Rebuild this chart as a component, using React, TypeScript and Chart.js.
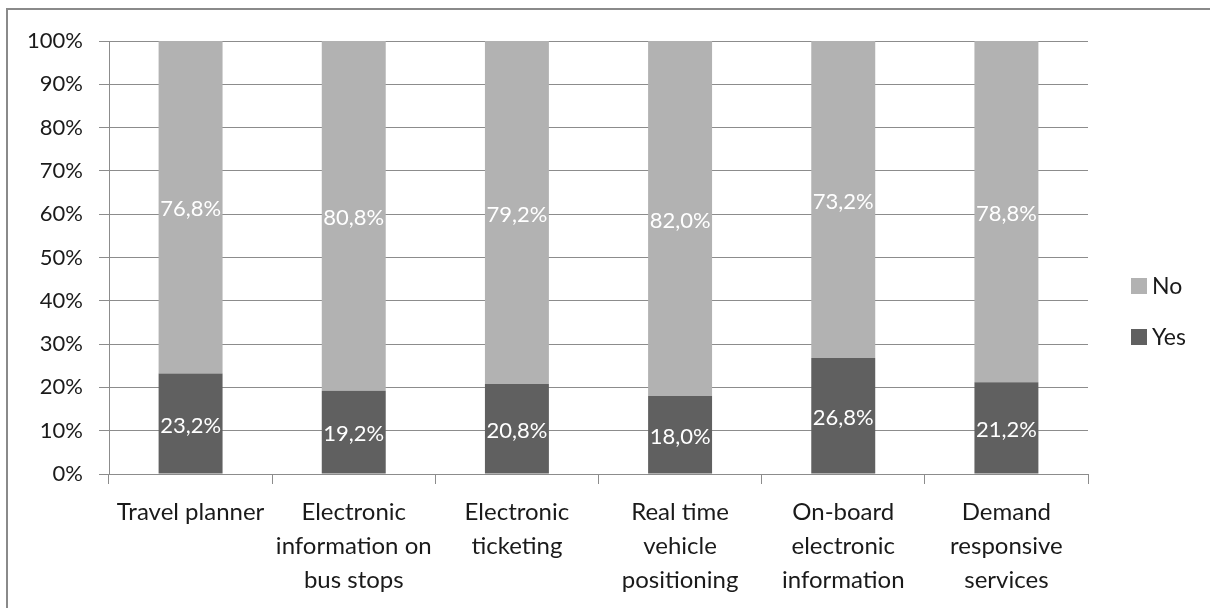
import React, { useEffect, useRef } from "react";
import { Chart, registerables } from "chart.js";

Chart.register(...registerables);

// Survey answers per service (percent of respondents)
const categories: string[][] = [
  ["Travel planner"],
  ["Electronic", "information on", "bus stops"],
  ["Electronic", "ticketing"],
  ["Real time", "vehicle", "positioning"],
  ["On-board", "electronic", "information"],
  ["Demand", "responsive", "services"],
];
const yesValues = [23.2, 19.2, 20.8, 18.0, 26.8, 21.2];
const noValues = [76.8, 80.8, 79.2, 82.0, 73.2, 78.8];
const yTicks = [0, 10, 20, 30, 40, 50, 60, 70, 80, 90, 100];

const FONT = "Lato";
const YES_COLOR = "#606060";
const NO_COLOR = "#b2b2b2";
const GRID_COLOR = "#8c8c8c";

const fmt = (v: number) => v.toFixed(1).replace(".", ",") + "%";

// White value labels centred in each stacked segment
const segmentLabels = {
  id: "segmentLabels",
  afterDatasetsDraw(chart: any) {
    const { ctx } = chart;
    ctx.save();
    ctx.fillStyle = "#ffffff";
    ctx.font = `22px ${FONT}`;
    ctx.textAlign = "center";
    ctx.textBaseline = "middle";
    chart.data.datasets.forEach((ds: any, di: number) => {
      const meta = chart.getDatasetMeta(di);
      meta.data.forEach((bar: any, i: number) => {
        const yMid = (bar.y + bar.base) / 2;
        ctx.fillText(fmt(ds.data[i]), bar.x, yMid + 2);
      });
    });
    ctx.restore();
  },
};

// Legend on the right, listed top-down in reverse stacking order
const sideLegend = {
  id: "sideLegend",
  afterDraw(chart: any) {
    const { ctx } = chart;
    const items = [...chart.data.datasets].reverse();
    ctx.save();
    ctx.font = `23px ${FONT}`;
    ctx.textAlign = "left";
    ctx.textBaseline = "middle";
    items.forEach((ds: any, i: number) => {
      const y = 278 + i * 51;
      ctx.fillStyle = ds.backgroundColor;
      ctx.fillRect(1131, y, 16, 16);
      ctx.fillStyle = "#1a1a1a";
      ctx.fillText(ds.label, 1152, y + 9);
    });
    ctx.restore();
  },
};

export default function App() {
  const ref = useRef<HTMLCanvasElement | null>(null);

  useEffect(() => {
    document.body.style.margin = "0";
    const canvas = ref.current;
    if (!canvas) return;
    const chart = new Chart(canvas, {
      type: "bar",
      data: {
        labels: categories,
        datasets: [
          {
            label: "Yes",
            data: yesValues,
            backgroundColor: YES_COLOR,
            barPercentage: 0.392,
            categoryPercentage: 1,
          },
          {
            label: "No",
            data: noValues,
            backgroundColor: NO_COLOR,
            barPercentage: 0.392,
            categoryPercentage: 1,
          },
        ],
      },
      options: {
        animation: false,
        responsive: false,
        layout: { padding: { top: 41, right: 122, left: 0, bottom: 0 } },
        plugins: {
          legend: { display: false },
          tooltip: { enabled: false },
        },
        scales: {
          x: {
            stacked: true,
            offset: true,
            grid: {
              offset: true,
              drawOnChartArea: false,
              drawTicks: true,
              tickLength: 10,
              color: GRID_COLOR,
            },
            border: { display: true, color: GRID_COLOR },
            ticks: {
              color: "#1a1a1a",
              font: { family: FONT, size: 24, lineHeight: 1.42 },
              padding: 11,
              maxRotation: 0,
              autoSkip: false,
            },
            afterFit: (s: any) => {
              s.height = 608 - 474;
            },
          },
          y: {
            stacked: true,
            min: 0,
            max: 100,
            afterBuildTicks: (s: any) => {
              s.ticks = yTicks.map((v) => ({ value: v }));
            },
            grid: {
              color: GRID_COLOR,
              drawTicks: true,
              tickLength: 10,
            },
            border: { display: true, color: GRID_COLOR },
            ticks: {
              color: "#1a1a1a",
              font: { family: FONT, size: 22 },
              padding: 16,
              callback: (v: any) => `${v}%`,
            },
            afterFit: (s: any) => {
              s.width = 109;
            },
          },
        },
      },
      plugins: [segmentLabels, sideLegend],
    });
    return () => chart.destroy();
  }, []);

  return (
    <div style={{ position: "relative", width: 1210, height: 608, overflow: "hidden", background: "#fff" }}>
      <canvas ref={ref} width={1210} height={608} style={{ display: "block" }} />
      <div
        style={{
          position: "absolute",
          left: 6,
          top: 8,
          width: 1300,
          height: 700,
          border: "2px solid #8a8a8a",
          pointerEvents: "none",
        }}
      />
    </div>
  );
}
